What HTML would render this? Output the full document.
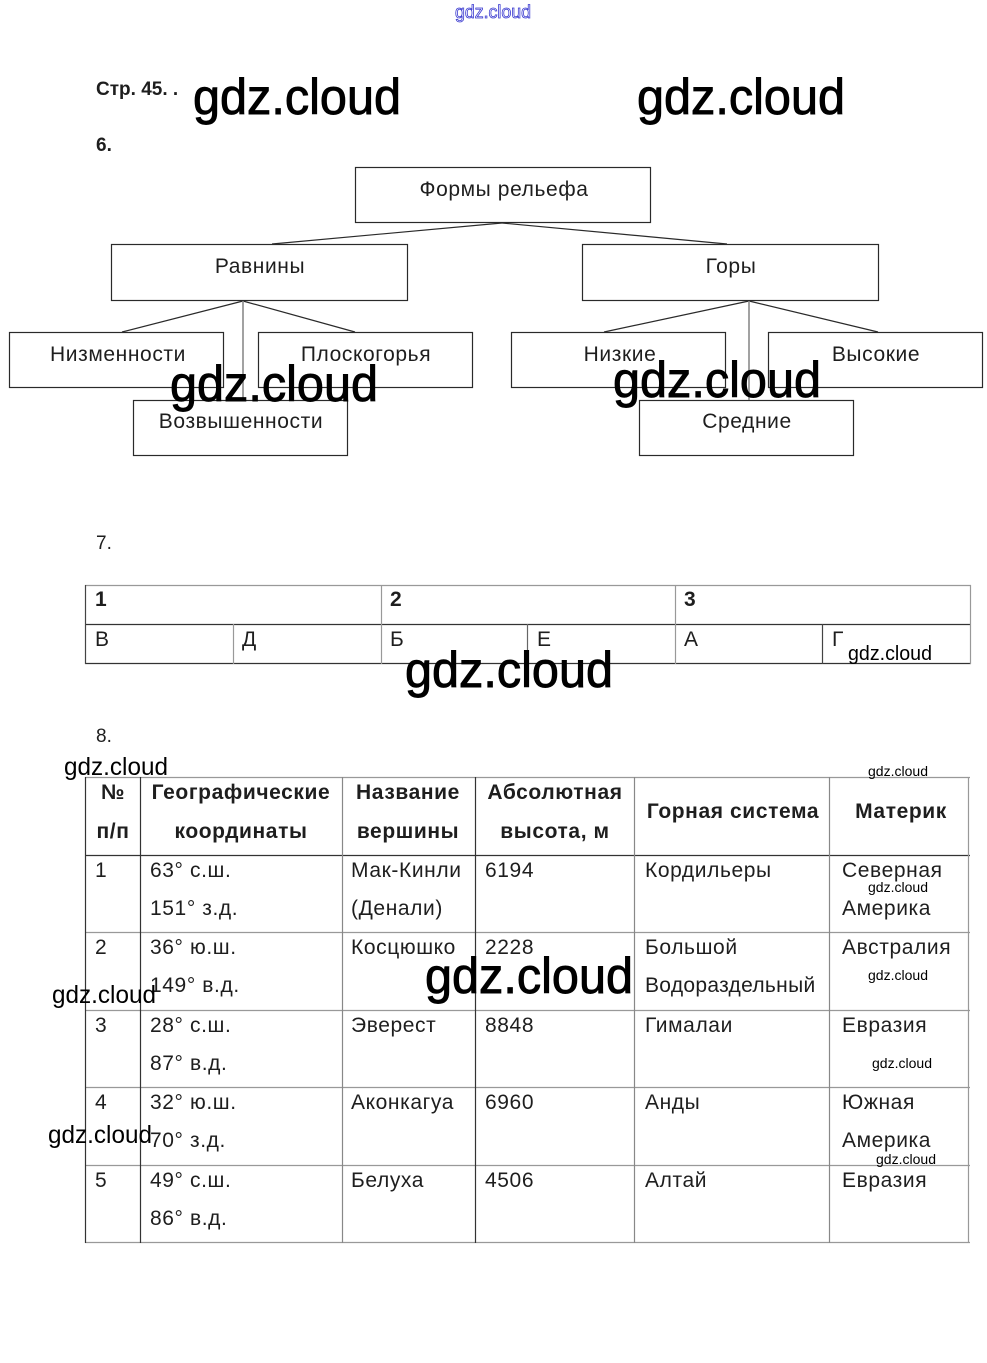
<!DOCTYPE html>
<html><head><meta charset="utf-8"><style>
html,body{margin:0;padding:0;background:#fff;}
svg{display:block;}
text{font-family:"Liberation Sans",Arial,sans-serif;fill:#1e1e1e;}
.wm{fill:#000;}
.wm text{fill:#000;}
.big{stroke:#000;stroke-width:0.9px;}
.b{font-weight:bold;}
.ls{letter-spacing:0.6px;}
</style></head><body>
<svg width="987" height="1363" viewBox="0 0 987 1363" xmlns="http://www.w3.org/2000/svg">
<rect width="987" height="1363" fill="#fff"/>

<!-- top blue watermark -->
<text x="493" y="18" font-size="18" text-anchor="middle" style="fill:#fff;stroke:#3a3ad0;stroke-width:0.8" textLength="76" lengthAdjust="spacingAndGlyphs">gdz.cloud</text>

<!-- headings -->
<text x="96" y="95" font-size="19" class="b">Стр. 45. .</text>
<text x="96" y="151" font-size="19" class="b">6.</text>
<text x="96" y="549" font-size="19">7.</text>
<text x="96" y="742" font-size="19">8.</text>

<!-- diagram 6 -->
<g fill="none" stroke="#2a2a2a" stroke-width="1.2">
<rect x="355.5" y="167.5" width="295" height="55"/>
<rect x="111.5" y="244.5" width="296" height="56"/>
<rect x="582.5" y="244.5" width="296" height="56"/>
<rect x="9.5" y="332.5" width="214" height="55"/>
<rect x="258.5" y="332.5" width="214" height="55"/>
<rect x="133.5" y="400.5" width="214" height="55"/>
<rect x="511.5" y="332.5" width="214" height="55"/>
<rect x="768.5" y="332.5" width="214" height="55"/>
<rect x="639.5" y="400.5" width="214" height="55"/>
<line x1="502" y1="223" x2="272" y2="244"/>
<line x1="502" y1="223" x2="727" y2="244"/>
<line x1="243" y1="301" x2="122" y2="332"/>
<line x1="243" y1="301" x2="355" y2="332"/>
<line x1="749" y1="301" x2="604" y2="332"/>
<line x1="749" y1="301" x2="878" y2="332"/>
</g>
<g stroke="#8a8a8a" stroke-width="1.6">
<line x1="243" y1="301" x2="243" y2="400"/>
<line x1="749" y1="301" x2="749" y2="400"/>
</g>
<g font-size="21" text-anchor="middle" class="ls">
<text x="504" y="196">Формы рельефа</text>
<text x="260" y="273">Равнины</text>
<text x="731" y="273">Горы</text>
<text x="118" y="361">Низменности</text>
<text x="366" y="361">Плоскогорья</text>
<text x="241" y="428">Возвышенности</text>
<text x="620" y="361">Низкие</text>
<text x="876" y="361">Высокие</text>
<text x="747" y="428">Средние</text>
</g>

<!-- table 7 -->
<g stroke-width="1.2" fill="none">
<line x1="85" y1="585.5" x2="971" y2="585.5" stroke="#999"/>
<line x1="85" y1="624.5" x2="971" y2="624.5" stroke="#333"/>
<line x1="85" y1="663.5" x2="971" y2="663.5" stroke="#333"/>
<line x1="85.5" y1="585" x2="85.5" y2="664" stroke="#444"/>
<line x1="970.5" y1="585" x2="970.5" y2="664" stroke="#999"/>
<line x1="381.5" y1="585" x2="381.5" y2="664" stroke="#999"/>
<line x1="675.5" y1="585" x2="675.5" y2="664" stroke="#999"/>
<line x1="233.5" y1="624" x2="233.5" y2="664" stroke="#999"/>
<line x1="527.5" y1="624" x2="527.5" y2="664" stroke="#666"/>
<line x1="822.5" y1="624" x2="822.5" y2="664" stroke="#444"/>
</g>
<g font-size="21">
<text x="95" y="606" class="b">1</text>
<text x="390" y="606" class="b">2</text>
<text x="684" y="606" class="b">3</text>
<text x="95" y="646">В</text>
<text x="242" y="646">Д</text>
<text x="390" y="646">Б</text>
<text x="537" y="646">Е</text>
<text x="684" y="646">А</text>
<text x="832" y="646">Г</text>
</g>

<!-- table 8 -->
<g stroke-width="1.2" fill="none">
<line x1="85" y1="777.5" x2="970" y2="777.5" stroke="#999"/>
<line x1="85" y1="855.5" x2="970" y2="855.5" stroke="#333"/>
<line x1="85" y1="932.5" x2="970" y2="932.5" stroke="#999"/>
<line x1="85" y1="1010.5" x2="970" y2="1010.5" stroke="#999"/>
<line x1="85" y1="1087.5" x2="970" y2="1087.5" stroke="#999"/>
<line x1="85" y1="1165.5" x2="970" y2="1165.5" stroke="#999"/>
<line x1="85" y1="1242.5" x2="970" y2="1242.5" stroke="#999"/>
<line x1="85.5" y1="777" x2="85.5" y2="1243" stroke="#333"/>
<line x1="140.5" y1="777" x2="140.5" y2="1243" stroke="#333"/>
<line x1="342.5" y1="777" x2="342.5" y2="1243" stroke="#888"/>
<line x1="475.5" y1="777" x2="475.5" y2="1243" stroke="#333"/>
<line x1="634.5" y1="777" x2="634.5" y2="1243" stroke="#888"/>
<line x1="829.5" y1="777" x2="829.5" y2="1243" stroke="#888"/>
<line x1="968.5" y1="777" x2="968.5" y2="1243" stroke="#999"/>
</g>
<g font-size="21" class="b ls" text-anchor="middle">
<text x="113" y="799">№</text>
<text x="113" y="838">п/п</text>
<text x="241" y="799">Географические</text>
<text x="241" y="838">координаты</text>
<text x="408" y="799">Название</text>
<text x="408" y="838">вершины</text>
<text x="555" y="799">Абсолютная</text>
<text x="555" y="838">высота, м</text>
<text x="733" y="818">Горная система</text>
<text x="901" y="818">Материк</text>
</g>
<g font-size="21" class="ls">
<text x="95" y="877">1</text>
<text x="150" y="877">63° с.ш.</text>
<text x="150" y="915">151° з.д.</text>
<text x="351" y="877">Мак-Кинли</text>
<text x="351" y="915">(Денали)</text>
<text x="485" y="877">6194</text>
<text x="645" y="877">Кордильеры</text>
<text x="842" y="877">Северная</text>
<text x="842" y="915">Америка</text>

<text x="95" y="954">2</text>
<text x="150" y="954">36° ю.ш.</text>
<text x="150" y="992">149° в.д.</text>
<text x="351" y="954">Косцюшко</text>
<text x="485" y="954">2228</text>
<text x="645" y="954">Большой</text>
<text x="645" y="992" letter-spacing="0.3">Водораздельный</text>
<text x="842" y="954">Австралия</text>

<text x="95" y="1032">3</text>
<text x="150" y="1032">28° с.ш.</text>
<text x="150" y="1070">87° в.д.</text>
<text x="351" y="1032">Эверест</text>
<text x="485" y="1032">8848</text>
<text x="645" y="1032">Гималаи</text>
<text x="842" y="1032">Евразия</text>

<text x="95" y="1109">4</text>
<text x="150" y="1109">32° ю.ш.</text>
<text x="150" y="1147">70° з.д.</text>
<text x="351" y="1109">Аконкагуа</text>
<text x="485" y="1109">6960</text>
<text x="645" y="1109">Анды</text>
<text x="842" y="1109">Южная</text>
<text x="842" y="1147">Америка</text>

<text x="95" y="1187">5</text>
<text x="150" y="1187">49° с.ш.</text>
<text x="150" y="1225">86° в.д.</text>
<text x="351" y="1187">Белуха</text>
<text x="485" y="1187">4506</text>
<text x="645" y="1187">Алтай</text>
<text x="842" y="1187">Евразия</text>
</g>

<!-- watermarks -->
<g class="wm">
<text class="big" x="193" y="114" font-size="50" textLength="208" lengthAdjust="spacingAndGlyphs">gdz.cloud</text>
<text class="big" x="637" y="114" font-size="50" textLength="208" lengthAdjust="spacingAndGlyphs">gdz.cloud</text>
<text class="big" x="170" y="401" font-size="50" textLength="208" lengthAdjust="spacingAndGlyphs">gdz.cloud</text>
<text class="big" x="613" y="397" font-size="50" textLength="208" lengthAdjust="spacingAndGlyphs">gdz.cloud</text>
<text class="big" x="405" y="687" font-size="50" textLength="208" lengthAdjust="spacingAndGlyphs">gdz.cloud</text>
<text class="big" x="425" y="993" font-size="50" textLength="208" lengthAdjust="spacingAndGlyphs">gdz.cloud</text>
<text x="848" y="660" font-size="20" textLength="84" lengthAdjust="spacingAndGlyphs">gdz.cloud</text>
<text x="64" y="775" font-size="25" textLength="104" lengthAdjust="spacingAndGlyphs">gdz.cloud</text>
<text x="52" y="1003" font-size="25" textLength="104" lengthAdjust="spacingAndGlyphs">gdz.cloud</text>
<text x="48" y="1143" font-size="25" textLength="104" lengthAdjust="spacingAndGlyphs">gdz.cloud</text>
<text x="868" y="776" font-size="14" textLength="60" lengthAdjust="spacingAndGlyphs">gdz.cloud</text>
<text x="868" y="892" font-size="14" textLength="60" lengthAdjust="spacingAndGlyphs">gdz.cloud</text>
<text x="868" y="980" font-size="14" textLength="60" lengthAdjust="spacingAndGlyphs">gdz.cloud</text>
<text x="872" y="1068" font-size="14" textLength="60" lengthAdjust="spacingAndGlyphs">gdz.cloud</text>
<text x="876" y="1164" font-size="14" textLength="60" lengthAdjust="spacingAndGlyphs">gdz.cloud</text>
</g>
</svg>
</body></html>
